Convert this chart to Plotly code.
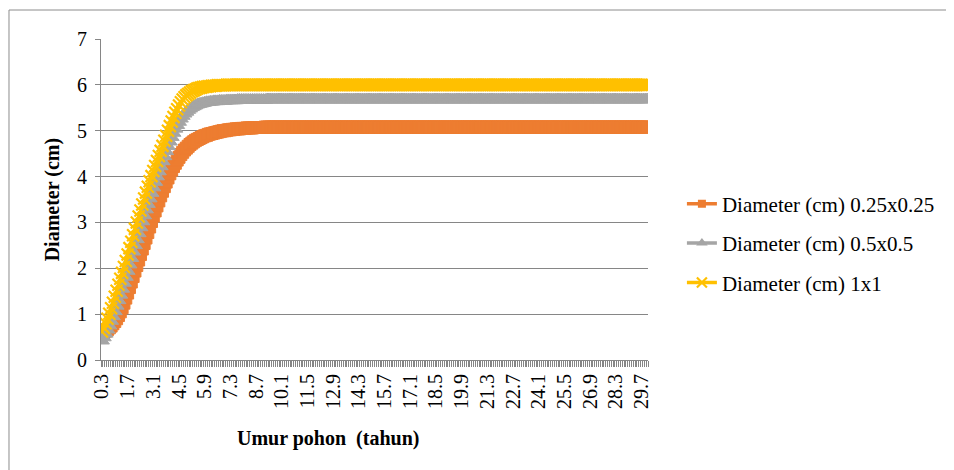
import plotly.graph_objects as go

# ---------------- data ----------------
ages = [round(0.3 + 0.1 * i, 1) for i in range(298)]  # 0.3 ... 30.0 (categories)

tick_labels = ["0.3", "1.7", "3.1", "4.5", "5.9", "7.3", "8.7", "10.1", "11.5", "12.9",
               "14.3", "15.7", "17.1", "18.5", "19.9", "21.3", "22.7", "24.1", "25.5",
               "26.9", "28.3", "29.7"]

series_names = ["Diameter (cm) 0.25x0.25", "Diameter (cm) 0.5x0.5", "Diameter (cm) 1x1"]

# each row = 10 ages (k+0.3 ... k+1.2)
d_025 = [
    0.58, 0.60, 0.63, 0.66, 0.70, 0.74, 0.79, 0.84, 0.90, 0.97,
    1.05, 1.14, 1.24, 1.35, 1.46, 1.58, 1.70, 1.82, 1.94, 2.06,
    2.18, 2.30, 2.42, 2.54, 2.66, 2.78, 2.90, 3.02, 3.14, 3.25,
    3.36, 3.47, 3.58, 3.68, 3.78, 3.88, 3.97, 4.06, 4.14, 4.22,
    4.29, 4.36, 4.42, 4.48, 4.53, 4.58, 4.62, 4.66, 4.70, 4.73,
    4.76, 4.79, 4.81, 4.83, 4.85, 4.87, 4.89, 4.90, 4.92, 4.93,
    4.94, 4.95, 4.96, 4.97, 4.98, 4.99, 5.00, 5.00, 5.01, 5.02,
    5.02, 5.03, 5.03, 5.04, 5.04, 5.04, 5.05, 5.05, 5.05, 5.06,
    5.06, 5.06, 5.06, 5.07, 5.07, 5.07, 5.07, 5.07, 5.07, 5.08,
    5.08, 5.08, 5.08, 5.08, 5.08, 5.08, 5.08, 5.08, 5.08, 5.08,
    5.08, 5.08, 5.08, 5.08, 5.08, 5.08, 5.08, 5.08, 5.08, 5.08,
    5.08, 5.08, 5.08, 5.08, 5.08, 5.08, 5.08, 5.08, 5.08, 5.08,
    5.08, 5.08, 5.08, 5.08, 5.08, 5.08, 5.08, 5.08, 5.08, 5.08,
    5.08, 5.08, 5.08, 5.08, 5.08, 5.08, 5.08, 5.08, 5.08, 5.08,
    5.08, 5.08, 5.08, 5.08, 5.08, 5.08, 5.08, 5.08, 5.08, 5.08,
    5.08, 5.08, 5.08, 5.08, 5.08, 5.08, 5.08, 5.08, 5.08, 5.08,
    5.08, 5.08, 5.08, 5.08, 5.08, 5.08, 5.08, 5.08, 5.08, 5.08,
    5.08, 5.08, 5.08, 5.08, 5.08, 5.08, 5.08, 5.08, 5.08, 5.08,
    5.08, 5.08, 5.08, 5.08, 5.08, 5.08, 5.08, 5.08, 5.08, 5.08,
    5.08, 5.08, 5.08, 5.08, 5.08, 5.08, 5.08, 5.08, 5.08, 5.08,
    5.08, 5.08, 5.08, 5.08, 5.08, 5.08, 5.08, 5.08, 5.08, 5.08,
    5.08, 5.08, 5.08, 5.08, 5.08, 5.08, 5.08, 5.08, 5.08, 5.08,
    5.08, 5.08, 5.08, 5.08, 5.08, 5.08, 5.08, 5.08, 5.08, 5.08,
    5.08, 5.08, 5.08, 5.08, 5.08, 5.08, 5.08, 5.08, 5.08, 5.08,
    5.08, 5.08, 5.08, 5.08, 5.08, 5.08, 5.08, 5.08, 5.08, 5.08,
    5.08, 5.08, 5.08, 5.08, 5.08, 5.08, 5.08, 5.08, 5.08, 5.08,
    5.08, 5.08, 5.08, 5.08, 5.08, 5.08, 5.08, 5.08, 5.08, 5.08,
    5.08, 5.08, 5.08, 5.08, 5.08, 5.08, 5.08, 5.08, 5.08, 5.08,
    5.08, 5.08, 5.08, 5.08, 5.08, 5.08, 5.08, 5.08, 5.08, 5.08,
    5.08, 5.08, 5.08, 5.08, 5.08, 5.08, 5.08, 5.08,
]

d_05 = [
    0.42, 0.49, 0.57, 0.66, 0.75, 0.85, 0.95, 1.06, 1.18, 1.30,
    1.42, 1.55, 1.68, 1.81, 1.94, 2.08, 2.22, 2.36, 2.50, 2.63,
    2.76, 2.89, 3.02, 3.15, 3.28, 3.40, 3.52, 3.64, 3.76, 3.88,
    4.00, 4.11, 4.22, 4.33, 4.44, 4.55, 4.66, 4.76, 4.86, 4.95,
    5.04, 5.12, 5.19, 5.26, 5.32, 5.37, 5.41, 5.45, 5.48, 5.51,
    5.53, 5.55, 5.57, 5.58, 5.59, 5.60, 5.61, 5.62, 5.62, 5.63,
    5.63, 5.64, 5.64, 5.64, 5.65, 5.65, 5.65, 5.65, 5.66, 5.66,
    5.66, 5.66, 5.66, 5.66, 5.67, 5.67, 5.67, 5.67, 5.67, 5.67,
    5.67, 5.67, 5.67, 5.67, 5.67, 5.67, 5.67, 5.67, 5.67, 5.67,
    5.68, 5.68, 5.68, 5.68, 5.68, 5.68, 5.68, 5.68, 5.68, 5.68,
    5.68, 5.68, 5.68, 5.68, 5.68, 5.68, 5.68, 5.68, 5.68, 5.68,
    5.68, 5.68, 5.68, 5.68, 5.68, 5.68, 5.68, 5.68, 5.68, 5.68,
    5.68, 5.68, 5.68, 5.68, 5.68, 5.68, 5.68, 5.68, 5.68, 5.68,
    5.68, 5.68, 5.68, 5.68, 5.68, 5.68, 5.68, 5.68, 5.68, 5.68,
    5.68, 5.68, 5.68, 5.68, 5.68, 5.68, 5.68, 5.68, 5.68, 5.68,
    5.68, 5.68, 5.68, 5.68, 5.68, 5.68, 5.68, 5.68, 5.68, 5.68,
    5.68, 5.68, 5.68, 5.68, 5.68, 5.68, 5.68, 5.68, 5.68, 5.68,
    5.68, 5.68, 5.68, 5.68, 5.68, 5.68, 5.68, 5.68, 5.68, 5.68,
    5.68, 5.68, 5.68, 5.68, 5.68, 5.68, 5.68, 5.68, 5.68, 5.68,
    5.68, 5.68, 5.68, 5.68, 5.68, 5.68, 5.68, 5.68, 5.68, 5.68,
    5.68, 5.68, 5.68, 5.68, 5.68, 5.68, 5.68, 5.68, 5.68, 5.68,
    5.68, 5.68, 5.68, 5.68, 5.68, 5.68, 5.68, 5.68, 5.68, 5.68,
    5.68, 5.68, 5.68, 5.68, 5.68, 5.68, 5.68, 5.68, 5.68, 5.68,
    5.68, 5.68, 5.68, 5.68, 5.68, 5.68, 5.68, 5.68, 5.68, 5.68,
    5.68, 5.68, 5.68, 5.68, 5.68, 5.68, 5.68, 5.68, 5.68, 5.68,
    5.68, 5.68, 5.68, 5.68, 5.68, 5.68, 5.68, 5.68, 5.68, 5.68,
    5.68, 5.68, 5.68, 5.68, 5.68, 5.68, 5.68, 5.68, 5.68, 5.68,
    5.68, 5.68, 5.68, 5.68, 5.68, 5.68, 5.68, 5.68, 5.68, 5.68,
    5.68, 5.68, 5.68, 5.68, 5.68, 5.68, 5.68, 5.68, 5.68, 5.68,
    5.68, 5.68, 5.68, 5.68, 5.68, 5.68, 5.68, 5.68,
]

d_1 = [
    0.62, 0.70, 0.80, 0.90, 1.01, 1.13, 1.25, 1.38, 1.51, 1.64,
    1.77, 1.90, 2.03, 2.16, 2.30, 2.44, 2.58, 2.72, 2.86, 3.00,
    3.13, 3.26, 3.39, 3.52, 3.65, 3.78, 3.90, 4.01, 4.12, 4.23,
    4.34, 4.45, 4.56, 4.67, 4.78, 4.89, 5.00, 5.10, 5.20, 5.30,
    5.39, 5.47, 5.55, 5.62, 5.68, 5.73, 5.77, 5.80, 5.83, 5.86,
    5.88, 5.90, 5.92, 5.93, 5.94, 5.95, 5.96, 5.96, 5.97, 5.97,
    5.98, 5.98, 5.98, 5.99, 5.99, 5.99, 5.99, 5.99, 6.00, 6.00,
    6.00, 6.00, 6.00, 6.00, 6.00, 6.00, 6.00, 6.00, 6.00, 6.00,
    6.00, 6.00, 6.00, 6.00, 6.00, 6.00, 6.00, 6.00, 6.00, 6.00,
    6.00, 6.00, 6.00, 6.00, 6.00, 6.00, 6.00, 6.00, 6.00, 6.00,
    6.00, 6.00, 6.00, 6.00, 6.00, 6.00, 6.00, 6.00, 6.00, 6.00,
    6.00, 6.00, 6.00, 6.00, 6.00, 6.00, 6.00, 6.00, 6.00, 6.00,
    6.00, 6.00, 6.00, 6.00, 6.00, 6.00, 6.00, 6.00, 6.00, 6.00,
    6.00, 6.00, 6.00, 6.00, 6.00, 6.00, 6.00, 6.00, 6.00, 6.00,
    6.00, 6.00, 6.00, 6.00, 6.00, 6.00, 6.00, 6.00, 6.00, 6.00,
    6.00, 6.00, 6.00, 6.00, 6.00, 6.00, 6.00, 6.00, 6.00, 6.00,
    6.00, 6.00, 6.00, 6.00, 6.00, 6.00, 6.00, 6.00, 6.00, 6.00,
    6.00, 6.00, 6.00, 6.00, 6.00, 6.00, 6.00, 6.00, 6.00, 6.00,
    6.00, 6.00, 6.00, 6.00, 6.00, 6.00, 6.00, 6.00, 6.00, 6.00,
    6.00, 6.00, 6.00, 6.00, 6.00, 6.00, 6.00, 6.00, 6.00, 6.00,
    6.00, 6.00, 6.00, 6.00, 6.00, 6.00, 6.00, 6.00, 6.00, 6.00,
    6.00, 6.00, 6.00, 6.00, 6.00, 6.00, 6.00, 6.00, 6.00, 6.00,
    6.00, 6.00, 6.00, 6.00, 6.00, 6.00, 6.00, 6.00, 6.00, 6.00,
    6.00, 6.00, 6.00, 6.00, 6.00, 6.00, 6.00, 6.00, 6.00, 6.00,
    6.00, 6.00, 6.00, 6.00, 6.00, 6.00, 6.00, 6.00, 6.00, 6.00,
    6.00, 6.00, 6.00, 6.00, 6.00, 6.00, 6.00, 6.00, 6.00, 6.00,
    6.00, 6.00, 6.00, 6.00, 6.00, 6.00, 6.00, 6.00, 6.00, 6.00,
    6.00, 6.00, 6.00, 6.00, 6.00, 6.00, 6.00, 6.00, 6.00, 6.00,
    6.00, 6.00, 6.00, 6.00, 6.00, 6.00, 6.00, 6.00, 6.00, 6.00,
    6.00, 6.00, 6.00, 6.00, 6.00, 6.00, 6.00, 6.00,
]

assert len(d_025) == len(ages) == len(d_05) == len(d_1), (len(d_025), len(d_05), len(d_1), len(ages))

# ---------------- figure ----------------
FONT = "Liberation Serif, Times New Roman, serif"
AX = "#868686"

fig = go.Figure()

styles = [
    dict(color="#ED7D31", symbol="square", size=12, lw=1, leg_size=8),
    dict(color="#A5A5A5", symbol="triangle-up", size=13, lw=1, leg_size=10),
    dict(color="#FFC000", symbol="x-thin", size=12, lw=2.2, leg_size=10),
]

for name, vals, st in zip(series_names, [d_025, d_05, d_1], styles):
    fig.add_trace(go.Scatter(
        x=ages, y=vals, name=name, mode="lines+markers",
        legendgroup=name, showlegend=False,
        line=dict(color=st["color"], width=3),
        marker=dict(symbol=st["symbol"], size=st["size"], color=st["color"],
                    line=dict(color=st["color"], width=st["lw"])),
    ))

# legend entries (same series, smaller legend symbols as in the original)
for name, st in zip(series_names, styles):
    fig.add_trace(go.Scatter(
        x=[None], y=[None], name=name, mode="lines+markers",
        legendgroup=name, showlegend=True,
        line=dict(color=st["color"], width=3.5),
        marker=dict(symbol=st["symbol"], size=st["leg_size"], color=st["color"],
                    line=dict(color=st["color"], width=st["lw"] if st["symbol"] == "x-thin" else 0)),
    ))

fig.update_layout(
    width=954, height=470,
    margin=dict(l=93, r=314, t=31, b=118),
    paper_bgcolor="white", plot_bgcolor="white",
    font=dict(family=FONT, size=20, color="black"),
    showlegend=True,
    legend=dict(x=1.062, y=0.364, xanchor="left", yanchor="middle",
                font=dict(family=FONT, size=21, color="black"),
                tracegroupgap=9, itemsizing="trace",
                bgcolor="rgba(0,0,0,0)"),
    xaxis=dict(
        range=[0.25, 30.05], tickmode="array",
        tickvals=[float(t) for t in tick_labels], ticktext=tick_labels,
        tickangle=-90, ticks="", showgrid=False, zeroline=False,
        showline=True, linecolor=AX, linewidth=1,
        ticklabelstandoff=5,
        tickfont=dict(family=FONT, size=20),
        minor=dict(ticks="outside", tick0=0.25, dtick=0.1, ticklen=6,
                   tickcolor=AX, tickwidth=1, showgrid=False),
    ),
    yaxis=dict(
        range=[0, 7], dtick=1, tick0=0, ticks="outside", ticklen=5,
        tickcolor=AX, showgrid=True, gridcolor=AX, gridwidth=1,
        zeroline=False, showline=True, linecolor=AX, linewidth=1,
        ticklabelstandoff=4,
        tickfont=dict(family=FONT, size=20),
    ),
    annotations=[
        dict(text="<b>Diameter (cm)</b>", xref="paper", yref="paper",
             x=-0.088, y=0.5, xanchor="center", yanchor="middle",
             textangle=-90, showarrow=False, font=dict(family=FONT, size=20)),
        dict(text="<b>Umur pohon  (tahun)</b>", xref="paper", yref="paper",
             x=0.415, y=-0.243, xanchor="center", yanchor="middle",
             showarrow=False, font=dict(family=FONT, size=20)),
    ],
    shapes=[
        dict(type="rect", xref="paper", yref="paper",
             x0=-0.1682, x1=1.7, y0=-0.6, y1=1.0903,
             line=dict(color="#8c8c8c", width=1), fillcolor="rgba(0,0,0,0)",
             layer="below"),
    ],
)

fig.write_html("out.html")
